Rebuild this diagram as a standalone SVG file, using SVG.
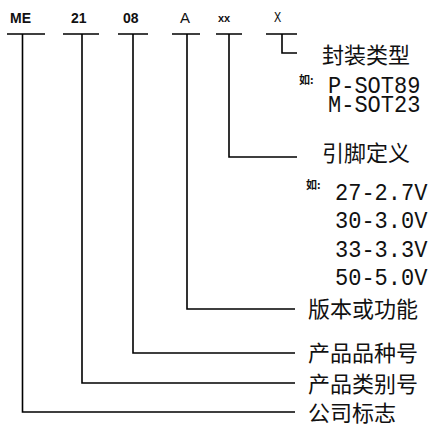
<svg xmlns="http://www.w3.org/2000/svg" width="438" height="440" viewBox="0 0 438 440">
<style>
.ln{fill:none;stroke:#000;stroke-width:1.6}
.cn{font-family:"Noto Sans CJK SC","Liberation Sans",sans-serif;font-size:22px;fill:#111}
.mo{font-family:"Liberation Mono",monospace;font-size:22px;fill:#111}
.tp{font-family:"Liberation Sans",Arial,sans-serif;font-size:14px;font-weight:bold;fill:#111}
.sm{font-family:"Noto Sans CJK SC",sans-serif;font-size:11px;font-weight:bold;fill:#111}
</style>
<rect width="438" height="440" fill="#fff"/>
<g id="code">
<text class="tp" x="10" y="23">ME</text>
<text class="tp" x="71" y="23">21</text>
<text class="tp" x="123" y="23">08</text>
<text class="tp" x="180" y="23" style="font-weight:normal;font-size:15px">A</text>
<text class="tp" x="218" y="22" style="font-size:11px">xx</text>
<text class="mo" x="0" y="0" style="font-size:12px" transform="translate(274,22) scale(1,1.15)">X</text>
</g>
<g id="connectors">
<path class="ln" d="M7 34H45M22.5 34V412H295"/>
<path class="ln" d="M63 34H99M82 34V383H295"/>
<path class="ln" d="M118 34H148M133 34V353H295"/>
<path class="ln" d="M172 34H200M187 34V309H295"/>
<path class="ln" d="M216 34H242M229 34V157H297"/>
<path class="ln" d="M266 34H297M282 34V53H297"/>
</g>
<g id="n-package">
<text class="cn" x="322" y="63">封装类型</text>
<text class="sm" x="299" y="84">如:</text>
<text class="mo" x="0" y="0" transform="translate(328,93) scale(1,1.1)">P-SOT89</text>
<text class="mo" x="0" y="0" transform="translate(328,112) scale(1,1.1)">M-SOT23</text>
</g>
<g id="n-pin">
<text class="cn" x="322" y="161">引脚定义</text>
<text class="sm" x="306" y="189">如:</text>
<text class="mo" x="0" y="0" transform="translate(335,200) scale(1,1.1)">27-2.7V</text>
<text class="mo" x="0" y="0" transform="translate(335,228) scale(1,1.1)">30-3.0V</text>
<text class="mo" x="0" y="0" transform="translate(335,257) scale(1,1.1)">33-3.3V</text>
<text class="mo" x="0" y="0" transform="translate(335,285) scale(1,1.1)">50-5.0V</text>
</g>
<g id="n-version"><text class="cn" x="308" y="317">版本或功能</text></g>
<g id="n-variety"><text class="cn" x="308" y="361">产品品种号</text></g>
<g id="n-category"><text class="cn" x="308" y="392">产品类别号</text></g>
<g id="n-company"><text class="cn" x="308" y="421">公司标志</text></g>
</svg>
